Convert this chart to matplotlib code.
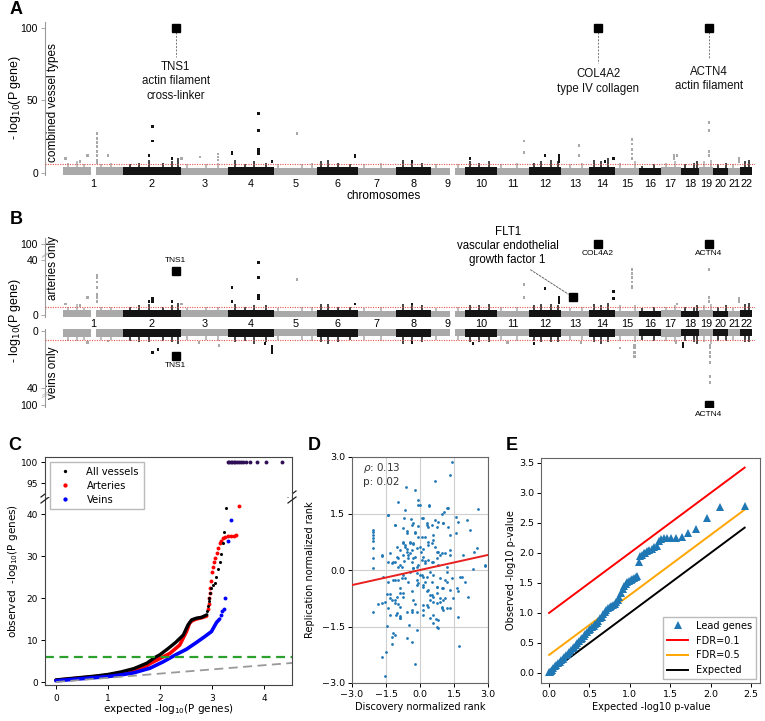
import numpy as np
import matplotlib
matplotlib.use("Agg")
import matplotlib.pyplot as plt
from matplotlib import transforms

plt.rcParams['font.family'] = ['DejaVu Sans']
ARIAL = 'Liberation Sans'

# ------------------------------------------------------------------ data
chrom_names = ['1', '2', '3', '4', '5', '6', '7', '8', '9', '10', '11', '12',
               '13', '14', '15', '16', '17', '18', '19', '20', '21', '22']
chrom_len = [249, 243, 198, 191, 181, 171, 159, 146, 141, 136, 135, 134,
             115, 107, 103, 90, 83, 78, 59, 63, 48, 51]          # Mb
gap_start = [118, 1616]      # gene-free stretches (genome Mb)
gap_end = [138, 1640]
threshold = 6.0

# small peaks rising out of the dense band (genome Mb)
peak_pos = [20, 60, 90, 160, 200, 280, 320, 360, 420, 455, 480, 520, 600, 650,
            720, 760, 800, 850, 900, 1000, 1040, 1080, 1110, 1150, 1200, 1260,
            1330, 1420, 1460, 1500, 1560, 1650, 1700, 1740, 1780, 1830, 1900,
            1970, 2000, 2040, 2070, 2120, 2170, 2220, 2250, 2280, 2330, 2390,
            2420, 2470, 2520, 2560, 2600, 2640, 2650, 2680, 2710, 2740, 2770,
            2800, 2850, 2870]

# Panel A : combined vessel types
band_A = [4.0, 4.0, 3.6, 4.0, 3.6, 4.2, 3.6, 4.2, 3.6, 4.2, 3.6, 4.2,
          3.4, 4.2, 3.6, 3.4, 4.0, 3.6, 3.8, 3.6, 3.4, 3.8]
peak_val_A = [7, 8, 6, 6, 7, 6, 7, 9, 7, 8, 10, 6, 6, 7, 9, 6, 8, 7, 6, 6,
              7, 8, 9, 7, 6, 6, 7, 9, 8, 7, 6, 6, 8, 7, 8, 6, 7, 7, 8, 9,
              8, 6, 7, 9, 8, 10, 7, 8, 5, 6, 7, 8, 6, 7, 8, 8, 9, 6, 7, 6,
              8, 9]
spike_pos_A = [12, 71, 104, 142, 142, 142, 142, 142, 142, 142, 142, 188, 360,
               376, 376, 456, 497, 573, 648, 648, 648, 707, 707,
               819, 819, 819, 819, 819, 819, 874, 978, 1221, 1221, 1459, 1702,
               1927, 1927, 2015, 2074, 2074, 2074, 2157, 2157, 2266, 2300,
               2379, 2379, 2379, 2379, 2379, 2554, 2554, 2567,
               2701, 2701, 2701, 2701, 2826, 2826]
spike_val_A = [10, 8, 12, 27, 24, 21, 18, 15, 12, 9, 7, 12, 12,
               32, 22, 10, 10, 11, 13, 11, 9, 14, 13,
               41, 29, 16, 15, 14, 13, 8, 27, 12, 11, 8, 10,
               22, 14, 12, 12, 10, 8, 19, 12, 8, 10,
               23, 20, 16, 13, 10, 12, 10, 12,
               35, 29, 15, 12, 10, 8]
gene_A_pos = [472, 2237, 2701]
gene_A_val = [100, 100, 100]
gene_A_text = ['TNS1\nactin filament\ncross-linker', 'COL4A2\ntype IV collagen',
               'ACTN4\nactin filament']
gene_A_text_y = [77, 72, 74]
gene_A_line_end = [80, 76, 79]

# Panel B : arteries only (up) / veins only (down)
band_art = [3.8, 3.6, 3.4, 3.6, 3.2, 3.8, 3.2, 3.8, 3.2, 3.8, 3.2, 3.8,
            3.0, 3.8, 3.2, 3.0, 3.8, 3.2, 3.4, 3.2, 3.0, 3.4]
peak_val_art = [6, 8, 5, 6, 6, 6, 7, 8, 6, 7, 9, 5, 6, 6, 8, 6, 7, 7, 5, 6,
                6, 8, 8, 6, 6, 5, 6, 8, 7, 7, 5, 6, 7, 7, 8, 6, 6, 7, 8, 8,
                7, 5, 6, 8, 7, 9, 7, 7, 5, 6, 6, 7, 6, 6, 7, 7, 8, 6, 7, 5,
                8, 9]
spike_pos_art = [142, 142, 142, 142, 142, 142, 142, 104, 12, 71, 376, 376, 360,
                 456, 497, 707, 707, 819, 819, 819, 819, 819, 978, 1221, 1459,
                 1927, 1927, 2015, 2074, 2074, 2074, 2300, 2300,
                 2379, 2379, 2379, 2379, 2379, 2379, 2567, 2701, 2701, 2701,
                 2826, 2826]
spike_val_art = [29, 27, 24, 20, 15, 13, 10, 13, 8, 7, 12, 10, 10,
                 10, 8, 20, 10, 38, 27, 14, 13, 12, 26, 8, 8,
                 22, 13, 19, 13, 11, 9, 17, 12,
                 33, 30, 27, 24, 21, 20, 8, 33, 13, 10,
                 12, 10]
gene_art_names = ['TNS1', 'FLT1', 'COL4A2', 'ACTN4']
gene_art_pos = [472, 2132, 2237, 2701]
gene_art_val = [32, 13, 100, 100]

band_vein = [4.2, 4.0, 3.8, 4.2, 3.8, 4.2, 3.8, 4.2, 3.8, 4.2, 3.8, 4.2,
             3.4, 4.2, 3.8, 3.4, 4.0, 3.8, 3.8, 3.8, 3.4, 3.8]
peak_val_vein = [7, 7, 6, 6, 6, 7, 8, 8, 7, 8, 9, 6, 6, 7, 8, 7, 9, 8, 6, 6,
                 7, 8, 9, 8, 6, 6, 7, 9, 8, 8, 6, 6, 8, 8, 8, 6, 7, 7, 8, 8,
                 8, 6, 6, 8, 9, 8, 7, 8, 6, 7, 7, 8, 7, 8, 9, 8, 9, 7, 7, 6,
                 8, 8]
spike_pos_vein = [104, 188, 376, 397, 569, 652, 845, 874, 874, 874, 1459, 1714,
                  1860, 1969, 2166, 2329, 2388, 2388, 2388, 2388, 2563,
                  2592, 2592, 2705, 2705, 2705, 2705, 2705, 2705, 2705]
spike_val_vein = [8, 7, 15, 13, 8, 10, 9, 15, 13, 11, 8, 9,
                  8, 9, 8, 12, 18, 15, 12, 10, 8,
                  11, 9, 36, 32, 22, 18, 15, 12, 10]
gene_vein_names = ['TNS1', 'ACTN4']
gene_vein_pos = [472, 2701]
gene_vein_val = [17.5, 100]

# Panel C : QQ plots
c_all_x = [0.0, 0.25, 0.5, 0.75, 1.0, 1.25, 1.5, 1.75, 1.9, 2.0, 2.15, 2.3,
           2.45, 2.54, 2.61, 2.7, 2.8, 2.9]
c_all_y = [0.5, 0.8, 1.1, 1.4, 1.8, 2.4, 3.2, 4.5, 5.8, 6.5, 7.9, 9.4,
           11.2, 13.6, 14.8, 15.2, 15.4, 16.0]
c_all_tail_x = [2.91, 2.93, 2.94, 2.95, 2.97, 2.99, 3.02, 3.05, 3.08, 3.12,
                3.15, 3.18, 3.22, 3.24, 3.28]
c_all_tail_y = [17.0, 18.0, 19.2, 20.0, 21.2, 22.4, 23.0, 23.6, 25.0, 26.8,
                28.6, 30.5, 33.0, 35.6, 41.4]
c_art_x = [0.0, 0.25, 0.5, 0.75, 1.0, 1.25, 1.5, 1.75, 1.81, 2.0, 2.19, 2.38,
           2.51, 2.57, 2.62, 2.7, 2.8, 2.9]
c_art_y = [0.4, 0.7, 1.0, 1.3, 1.6, 2.1, 2.8, 3.9, 4.4, 5.6, 6.8, 8.8,
           12.0, 14.0, 14.6, 15.0, 15.3, 15.7]
c_art_tail_x = [2.93, 2.94, 2.95, 2.96, 2.97, 2.99, 3.0, 3.02, 3.04, 3.06,
                3.09, 3.12, 3.15, 3.18, 3.22, 3.26, 3.31, 3.36, 3.42, 3.47, 3.52]
c_art_tail_y = [17.5, 18.5, 20.0, 21.2, 22.3, 24.0, 26.3, 27.5, 28.6, 29.5,
                30.8, 31.8, 33.0, 33.6, 34.2, 34.5, 34.7, 34.8, 34.8, 34.9, 42.0]
c_vein_x = [0.0, 0.25, 0.5, 0.75, 1.0, 1.25, 1.5, 1.81, 2.06, 2.32, 2.51, 2.7,
            2.86, 2.99, 3.09, 3.15]
c_vein_y = [0.3, 0.55, 0.8, 1.05, 1.3, 1.7, 2.2, 3.3, 4.8, 6.6, 7.8, 9.4,
            10.8, 12.0, 14.2, 15.0]
c_vein_tail_x = [3.18, 3.20, 3.23, 3.26, 3.31, 3.36]
c_vein_tail_y = [16.0, 16.9, 17.3, 20.0, 33.6, 38.6]
c_cap_x = [3.30, 3.33, 3.36, 3.39, 3.42, 3.45, 3.48, 3.52, 3.56, 3.60, 3.65,
           3.73, 3.86, 4.04, 4.34]
c_cap_y = [100] * 15
c_sig_line = 6.0
c_diag = [0.0, 4.6]

# Panel D : replication ranks
d_disc = [1.40, 1.32, 0.66, -0.22, -0.62, -0.96, -0.07, 0.00, 0.40, 1.18,
          1.07, 0.96, 2.57, -1.43, -0.71, -0.40, 0.07, 0.29, 0.51, 0.81,
          1.00, 1.59, 1.66, 2.06, -1.09, -0.74, -0.37, -0.07, -0.59, -0.22,
          0.07, 0.37, 0.59, 0.76, 1.22, 1.32, 1.59, 2.21, -2.09, -2.09,
          -2.09, -2.09, -2.09, -2.06, -2.06, -1.68, -1.32, -1.03, -0.74, -0.66,
          -0.44, -0.29, -0.59, -0.44, -0.15, 0.04, 0.12, 0.34, 0.51, 0.66,
          0.76, 0.88, 1.10, 1.32, 1.91, 2.38, 2.50, -1.21, -0.88, -0.71,
          -0.37, -0.07, -0.22, 0.22, 0.59, 0.74, 0.81, 2.87, -0.74, -0.51,
          -0.96,
          -2.09, -0.96, -0.29, -0.15, 0.07, 0.29, 0.44, 1.18, 2.35, 2.87,
          -1.62, -1.21, -1.10, -0.81, -0.74, -0.51, -0.15, -0.07, 0.15, 0.51,
          0.74, 1.03, 1.18, 1.84, 1.99, 1.62, 1.69, 2.13, 1.47, -1.47,
          -1.32, -1.03, -0.88, -0.74, -0.37, -0.29, 0.29, 0.44, 0.59, 0.74,
          0.88, 1.03, 0.15, 0.37, 0.59, 0.76, 0.96, 1.18, -1.69, -1.54,
          -1.40, -1.25, -1.10, -0.88, -0.59, -0.37, -0.15, -2.06, -1.32, -1.06,
          -0.88, -0.88, -0.47, -0.15, 0.15, 0.44, 0.59, 0.71, 0.74, 0.81,
          -1.47, -1.18, -1.10, -1.25, -0.56, -0.37, -1.25, -1.50, -1.69, -0.22,
          -1.54, 1.74, -1.84,
          -0.59, -0.22, 0.22, -0.07, 0.59, -0.74, -0.66, -0.44, -0.29, -0.59,
          -0.88, -0.37, 0.00, 0.15, 0.37, 0.81, 0.96, 1.32, -1.69, -1.03,
          -0.51, -0.29, 0.07, 0.37, 0.51, -1.40, -1.25, -1.10, -0.81, -0.29,
          -0.15, 0.22, 1.18, -0.44, 0.00, 0.15, 0.22, 0.59, 0.88, 1.10,
          1.40, 1.76, -0.66, -1.40, -0.96, -0.15, 0.15, 0.37, 0.51, 0.74,
          0.96, 1.32, -0.88, -0.74, -1.32, -1.10, -0.96, 0.29, 0.44, 0.88,
          0.96, 1.10, 1.32, -0.22, -1.03, -0.88, -0.37, 0.15, 0.59, 0.81,
          1.03, 1.69, -0.66, -0.07, 0.41, 1.25, -1.40, 0.15, 0.66, -1.10,
          -0.29, 0.29, 1.03]
d_rep = [2.86, 2.52, 2.35, 2.12, 2.21, 1.81, 1.86, 1.73, 1.71, 1.64,
         1.55, 1.50, 1.62, 1.46, 1.39, 1.35, 1.37, 1.24, 1.19, 1.28,
         1.24, 1.42, 1.28, 1.33, 1.19, 1.11, 1.19, 1.18, 1.04, 1.02,
         0.88, 1.15, 0.93, 1.15, 1.15, 0.93, 0.99, 1.06, 1.06, 1.00,
         0.93, 0.84, 0.77, 0.58, 0.31, 0.37, 0.46, 0.62, 0.71, 0.62,
         0.75, 0.68, 0.49, 0.44, 0.58, 0.49, 0.35, 0.75, 0.71, 0.62,
         0.49, 0.40, 0.44, 0.40, 0.40, 0.49, 0.59, 0.22, 0.13, 0.24,
         0.22, 0.13, 0.35, 0.24, 0.22, 0.31, 0.13, 0.13, 0.40, 0.31,
         0.31,
         0.06, 0.09, 0.04, -0.09, -0.13, -0.18, -0.06, -0.04, 0.03, 0.10,
         -0.18, -0.27, -0.27, -0.22, -0.13, -0.31, -0.27, -0.35, -0.40, -0.31,
         -0.44, -0.49, -0.31, -0.18, -0.31, -0.49, -0.57, -0.73, -0.75, -0.65,
         -0.65, -0.72, -0.62, -0.71, -0.57, -0.80, -0.57, -0.66, -0.71, -0.62,
         -0.75, -0.80, -0.93, -0.97, -0.84, -0.88, -1.00, -1.00, -0.88, -0.86,
         -1.02, -0.80, -0.88, -0.97, -1.11, -1.06, -1.11, -1.12, -1.19, -1.19,
         -1.28, -1.21, -1.46, -1.59, -1.19, -1.28, -1.42, -1.30, -1.50, -1.55,
         -1.49, -1.68, -1.73, -1.77, -1.80, -1.90, -1.96, -2.19, -2.30, -2.50,
         -2.81, -2.03, -0.91,
         0.97, 0.97, 0.88, 0.88, 0.80, 0.75, 0.66, 0.71, 0.71, 0.57,
         0.53, 0.53, 0.62, 0.57, 0.66, 0.49, 0.44, 0.53, 0.40, 0.35,
         0.40, 0.31, 0.27, 0.27, 0.22, 0.22, 0.18, 0.22, 0.09, 0.04,
         0.09, 0.18, 0.09, -0.04, -0.13, -0.18, -0.31, -0.13, -0.22, -0.27,
         -0.22, -0.18, -0.22, -0.31, -0.27, -0.40, -0.44, -0.53, -0.66, -0.44,
         -0.49, -0.53, -0.49, -0.62, -0.75, -0.80, -0.89, -0.93, -0.80, -0.84,
         -0.97, -0.75, -1.02, -0.89, -1.15, -1.28, -1.11, -1.06, -1.19, -1.33,
         -1.06, -1.24, 1.59, 1.73, 1.73, 1.64, 1.46, 1.37, 1.33, 1.19,
         1.24, 1.19, 1.24]
d_fit_x = [-3.0, 3.0]
d_fit_y = [-0.40, 0.40]
d_rho = 0.13
d_p = 0.02

# Panel E : lead-gene QQ
e_exp = [0.00, 0.01, 0.02, 0.03, 0.05, 0.07, 0.09, 0.11, 0.13, 0.15,
         0.17, 0.19, 0.21, 0.23, 0.25, 0.27, 0.29, 0.31, 0.33, 0.35,
         0.37, 0.39, 0.41, 0.43, 0.45, 0.47, 0.49, 0.51, 0.53, 0.55,
         0.57, 0.59, 0.61, 0.63, 0.65, 0.67, 0.69, 0.71, 0.73, 0.75,
         0.77, 0.79, 0.81, 0.83, 0.85, 0.87, 0.89, 0.91, 0.93, 0.95,
         0.97, 0.99, 1.01, 1.03, 1.05, 1.07, 1.09, 1.11, 1.13, 1.15,
         1.17, 1.19, 1.21, 1.24, 1.27, 1.30, 1.33, 1.36, 1.39, 1.42,
         1.46, 1.51, 1.57, 1.64, 1.72, 1.82, 1.95, 2.12, 2.42]
e_obs = [0.01, 0.02, 0.04, 0.05, 0.08, 0.11, 0.14, 0.16, 0.19, 0.22,
         0.24, 0.27, 0.30, 0.32, 0.35, 0.38, 0.41, 0.44, 0.47, 0.50,
         0.53, 0.56, 0.59, 0.62, 0.65, 0.68, 0.71, 0.73, 0.76, 0.79,
         0.82, 0.84, 0.87, 0.91, 0.94, 0.98, 1.01, 1.05, 1.08, 1.10,
         1.12, 1.13, 1.15, 1.18, 1.22, 1.27, 1.33, 1.40, 1.45, 1.49,
         1.51, 1.53, 1.55, 1.57, 1.58, 1.60, 1.62, 1.85, 1.94, 1.97,
         1.99, 2.00, 2.03, 2.05, 2.07, 2.09, 2.12, 2.20, 2.23, 2.24,
         2.24, 2.24, 2.25, 2.27, 2.33, 2.40, 2.58, 2.77, 2.78]
e_line_x = [0.0, 2.42]
e_fdr01_y = [1.0, 3.42]
e_fdr05_y = [0.30, 2.72]
e_expected_y = [0.0, 2.42]

# ------------------------------------------------------------------ figure
W, H = 765, 721
fig = plt.figure(figsize=(W / 100, H / 100), dpi=100)


def px_axes(x0, y0, x1, y1):
    return fig.add_axes([x0 / W, 1 - y1 / H, (x1 - x0) / W, (y1 - y0) / H])


def ftext(x, y, s, **kw):
    return fig.text(x / W, 1 - y / H, s, **kw)


starts = np.concatenate([[0], np.cumsum(chrom_len)[:-1]])
ends = np.cumsum(chrom_len)
centers = (starts + ends) / 2
GRAY, BLACK = '#a9a9a9', '#141414'
SPINE = '#9a9a9a'


def chrom_color(i):
    return GRAY if i % 2 == 0 else BLACK


def colors_for(pos):
    idx = np.searchsorted(ends, np.asarray(pos, float), side='right')
    return [chrom_color(i) for i in idx]


def draw_manhattan(ax, band, pval, spos, sval):
    base = -1.2
    for i in range(len(chrom_len)):
        segs = [(starts[i], ends[i])]
        for gs, ge in zip(gap_start, gap_end):
            nxt = []
            for s, e in segs:
                if ge <= s or gs >= e:
                    nxt.append((s, e))
                else:
                    if gs > s:
                        nxt.append((s, gs))
                    if ge < e:
                        nxt.append((ge, e))
            segs = nxt
        for s, e in segs:
            ax.bar(s, band[i] - base, bottom=base, width=e - s, align='edge',
                   color=chrom_color(i), linewidth=0, zorder=2)
    ax.vlines(peak_pos, 0, pval, colors=colors_for(peak_pos), lw=1.1, zorder=2)
    ax.scatter(spos, sval, s=4, c=colors_for(spos), marker='s', linewidths=0, zorder=3)
    ax.axhline(threshold, color='#e5534b', lw=0.8, ls=(0, (1, 1.2)), zorder=4)


def style_manhattan(ax, yt, ytl):
    for sp in ['top', 'right', 'bottom']:
        ax.spines[sp].set_visible(False)
    ax.spines['left'].set_color(SPINE)
    ax.spines['left'].set_linewidth(0.8)
    ax.set_xlim(-75, 2893)
    ax.set_yticks(yt)
    ax.set_yticklabels(ytl, fontfamily=ARIAL, fontsize=7.5)
    ax.tick_params(axis='y', length=3, width=0.6, color=SPINE, pad=2)
    ax.patch.set_alpha(0)


# ---------------- Panel A
axA = px_axes(45, 22, 755, 175)
draw_manhattan(axA, band_A, peak_val_A, spike_pos_A, spike_val_A)
axA.set_ylim(-1.4, 104)
style_manhattan(axA, [0, 50, 100], ['0', '50', '100'])
axA.set_xticks(centers)
axA.set_xticklabels(chrom_names, fontfamily=ARIAL, fontsize=7.8)
axA.tick_params(axis='x', length=0, pad=3)
axA.plot(gene_A_pos, gene_A_val, 's', ms=6, color='black', zorder=5)
for gx, gv, gt, ty, le in zip(gene_A_pos, gene_A_val, gene_A_text,
                              gene_A_text_y, gene_A_line_end):
    axA.plot([gx, gx], [gv - 3, le], ls=(0, (2, 1.5)), color='#777777', lw=0.7)
    axA.text(gx, ty, gt, ha='center', va='top', fontsize=8.3, family=ARIAL,
             linespacing=1.25, color='#111111')
ftext(384, 196, 'chromosomes', ha='center', va='center', fontsize=8.5, family=ARIAL)
ftext(15, 97, r'- log$_{10}$(P gene)', rotation=90, ha='center', va='center',
      fontsize=9, family=ARIAL)
ftext(53, 103, 'combined vessel types', rotation=90, ha='center', va='center',
      fontsize=8.5, family=ARIAL)


# ---------------- Panel B (broken axis via function scale)
def brk_fwd(v):
    v = np.asarray(v, float)
    return np.where(v <= 40, v, 40 + (v - 40) * 0.2)


def brk_inv(u):
    u = np.asarray(u, float)
    return np.where(u <= 40, u, 40 + (u - 40) / 0.2)


axBt = px_axes(45, 238, 755, 317)
axBb = px_axes(45, 329, 755, 407)
for ax in (axBt, axBb):
    ax.set_yscale('function', functions=(brk_fwd, brk_inv))
draw_manhattan(axBt, band_art, peak_val_art, spike_pos_art, spike_val_art)
draw_manhattan(axBb, band_vein, peak_val_vein, spike_pos_vein, spike_val_vein)
axBt.set_ylim(-1.45, 120)
axBb.set_ylim(106.7, -1.4)
style_manhattan(axBt, [0, 40, 100], ['0', '40', '100'])
style_manhattan(axBb, [0, 40, 100], ['0', '40', '100'])
axBt.set_xticks(centers)
axBt.set_xticklabels(chrom_names, fontfamily=ARIAL, fontsize=7.8)
axBt.tick_params(axis='x', length=0, pad=1.5)
axBb.set_xticks([])
for ax in (axBt, axBb):
    tr = transforms.blended_transform_factory(ax.transAxes, ax.transData)
    ax.plot([0, 0], [58, 63], transform=tr, ls='none', marker=[(-1, -0.6), (1, 0.6)],
            ms=5, mew=0.6, color='#c0c0c0', clip_on=False)

axBt.plot(gene_art_pos, gene_art_val, 's', ms=5.5, color='black', zorder=5)
axBb.plot(gene_vein_pos, gene_vein_val, 's', ms=5.5, color='black', zorder=5)
for name, gx, gv in zip(gene_art_names, gene_art_pos, gene_art_val):
    if name == 'FLT1':
        axBt.annotate('FLT1\nvascular endothelial\ngrowth factor 1', xy=(gx, gv),
                      xytext=(-47, 37), textcoords='offset points', ha='center',
                      va='center', fontsize=8.3, family=ARIAL, linespacing=1.2,
                      arrowprops=dict(arrowstyle='-', ls=(0, (2, 1.5)), lw=0.7,
                                      color='#666666', relpos=(0.66, 0.0),
                                      shrinkA=2, shrinkB=4))
    elif name == 'TNS1':
        axBt.annotate(name, xy=(gx, gv), xytext=(0, 7.5), textcoords='offset points',
                      ha='center', va='center', fontsize=6, family=ARIAL)
    else:
        axBt.annotate(name, xy=(gx, gv), xytext=(0, -7.5), textcoords='offset points',
                      ha='center', va='center', fontsize=6, family=ARIAL)
for name, gx, gv in zip(gene_vein_names, gene_vein_pos, gene_vein_val):
    axBb.annotate(name, xy=(gx, gv), xytext=(0, -7), textcoords='offset points',
                  ha='center', va='center', fontsize=6, family=ARIAL)
ftext(15, 320, r'- log$_{10}$(P gene)', rotation=90, ha='center', va='center',
      fontsize=9, family=ARIAL)
ftext(53, 268, 'arteries only', rotation=90, ha='center', va='center',
      fontsize=8.5, family=ARIAL)
ftext(53, 373, 'veins only', rotation=90, ha='center', va='center',
      fontsize=8.5, family=ARIAL)

# ---------------- Panel C
axCu = px_axes(45, 457, 292, 497)
axCl = px_axes(45, 497, 292, 685)
axCu.set_zorder(3)
for ax in (axCu, axCl):
    ax.plot(c_art_x, c_art_y, '-', color='red', lw=2.6, solid_capstyle='round')
    ax.plot(c_all_x, c_all_y, '-', color='black', lw=2.4, solid_capstyle='round')
    ax.plot(c_vein_x, c_vein_y, '-', color='blue', lw=2.6, solid_capstyle='round')
    ax.plot(c_art_tail_x, c_art_tail_y, 'o', color='red', ms=2.8, mew=0, label='Arteries')
    ax.plot(c_all_tail_x, c_all_tail_y, 'o', color='black', ms=2.2, mew=0, label='All vessels')
    ax.plot(c_vein_tail_x, c_vein_tail_y, 'o', color='blue', ms=2.8, mew=0, label='Veins')
    ax.plot(c_cap_x, c_cap_y, 'o', color='#2e0f55', ms=2.8, mew=0)
    ax.axhline(c_sig_line, color='#2ca02c', lw=1.6, ls=(0, (4, 2.5)))
    ax.plot(c_diag, c_diag, color='#999999', lw=1.3, ls=(0, (5, 3)))
    ax.set_xlim(-0.21, 4.54)
    for sp in ax.spines.values():
        sp.set_color('#444444')
        sp.set_linewidth(0.8)
    ax.tick_params(labelsize=6.5, length=3, width=0.7, pad=2)
axCu.set_ylim(91.7, 101.2)
axCl.set_ylim(-0.71, 44.05)
axCu.spines['bottom'].set_visible(False)
axCl.spines['top'].set_visible(False)
axCu.set_xticks([])
axCu.set_yticks([95, 100])
axCl.set_xticks([0, 1, 2, 3, 4])
axCl.set_yticks([0, 10, 20, 30, 40])
axCl.tick_params(axis='x', pad=3.5)
for xa in (0, 1):
    for dy in (-3, 3):
        fig.add_artist(plt.Line2D([(45 + 247 * xa - 4) / W, (45 + 247 * xa + 4) / W],
                                  [1 - (497 + dy + 3) / H, 1 - (497 + dy - 3) / H],
                                  color='#222222', lw=0.9))
handles, labels = axCu.get_legend_handles_labels()
order = [labels.index('All vessels'), labels.index('Arteries'), labels.index('Veins')]
leg = axCu.legend([handles[i] for i in order], [labels[i] for i in order],
                  loc='upper left', bbox_to_anchor=(50 / W, 1 - 462 / H),
                  bbox_transform=fig.transFigure, borderaxespad=0, fontsize=7.2,
                  markerscale=1.1, handletextpad=1.2, borderpad=0.45,
                  labelspacing=0.4, framealpha=1, edgecolor='#bbbbbb', fancybox=False)
ftext(168, 709, r'expected -log$_{10}$(P genes)', ha='center', va='center', fontsize=7.5)
ftext(13, 571, r'observed  -log$_{10}$(P genes)', rotation=90, ha='center',
      va='center', fontsize=7.5)

# ---------------- Panel D
axD = px_axes(352, 457, 488, 683)
axD.scatter(d_disc, d_rep, s=4, color='#1f77b4', linewidths=0, zorder=3)
axD.plot(d_fit_x, d_fit_y, color='#e8201f', lw=1.4, zorder=4)
axD.set_xlim(-3, 3)
axD.set_ylim(-3, 3)
ticks = [-3.0, -1.5, 0.0, 1.5, 3.0]
axD.set_xticks(ticks)
axD.set_yticks(ticks)
axD.grid(True, color='#cfcfcf', lw=0.8)
axD.set_axisbelow(True)
for sp in axD.spines.values():
    sp.set_color('#666666')
    sp.set_linewidth(0.8)
axD.tick_params(labelsize=6.8, length=3, width=0.7, pad=2)
axD.text(-2.5, 2.72, r'$\rho$: %.2f' % d_rho, fontsize=7.5, va='center', color='#333333')
axD.text(-2.5, 2.33, 'p: %.2f' % d_p, fontsize=7.5, va='center', color='#333333')
ftext(420, 707, 'Discovery normalized rank', ha='center', va='center', fontsize=7)
ftext(310, 570, 'Replication normalized rank', rotation=90, ha='center',
      va='center', fontsize=7)

# ---------------- Panel E
axE = px_axes(541, 458, 760, 683)
axE.plot(e_exp, e_obs, '^', color='#1f77b4', ms=5.5, mew=0, label='Lead genes', zorder=4)
axE.plot(e_line_x, e_fdr01_y, color='red', lw=1.4, label='FDR=0.1')
axE.plot(e_line_x, e_fdr05_y, color='orange', lw=1.4, label='FDR=0.5')
axE.plot(e_line_x, e_expected_y, color='black', lw=1.4, label='Expected')
axE.set_xlim(-0.1, 2.61)
axE.set_ylim(-0.167, 3.58)
axE.set_xticks([0.0, 0.5, 1.0, 1.5, 2.0, 2.5])
axE.set_yticks([0.0, 0.5, 1.0, 1.5, 2.0, 2.5, 3.0, 3.5])
for sp in axE.spines.values():
    sp.set_color('#666666')
    sp.set_linewidth(0.8)
axE.tick_params(labelsize=6.8, length=3, width=0.7, pad=2)
axE.legend(loc='lower right', fontsize=7, framealpha=1, edgecolor='#bbbbbb',
           fancybox=False, borderaxespad=0.4, handlelength=2.2)
ftext(651, 707, 'Expected -log10 p-value', ha='center', va='center', fontsize=7)
ftext(511, 570, 'Observed -log10 p-value', rotation=90, ha='center', va='center',
      fontsize=7)

# ---------------- panel letters
for letter, (lx, ly) in zip('ABCDE', [(16, 9), (16, 219), (15, 446), (314, 446), (512, 446)]):
    ftext(lx, ly, letter, ha='center', va='center', fontsize=13,
          fontweight='bold', family=ARIAL)

fig.savefig('out.png', dpi=100)
